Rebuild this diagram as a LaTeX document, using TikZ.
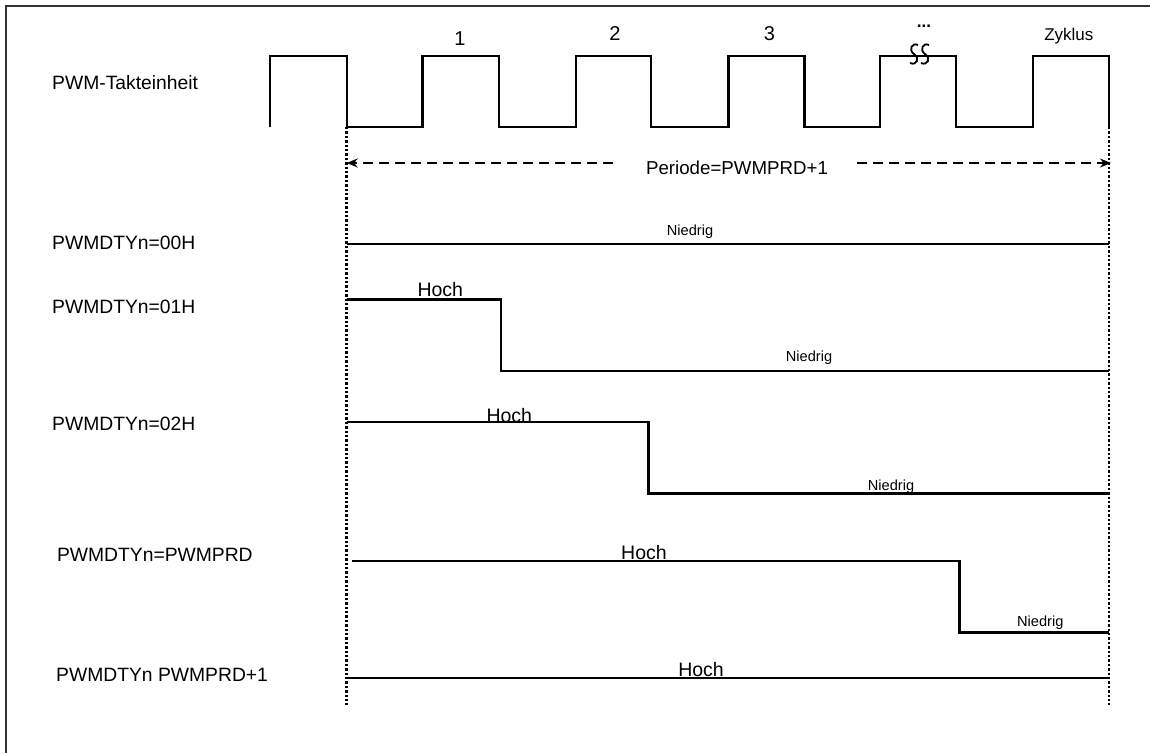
\documentclass[tikz,border=0pt]{standalone}
\usepackage{fontspec}
\setmainfont{Liberation Sans}
\usetikzlibrary{arrows.meta}
\begin{document}
\begin{tikzpicture}[x=1pt,y=-1pt,
  frame/.style={line width=2pt,draw=black!80},
  sig/.style={line width=2.4pt,line join=miter},
  vdot/.style={line width=2.6pt,dash pattern=on 2.4pt off 2pt},
  darrow/.style={line width=1.5pt,dash pattern=on 10pt off 6pt,-{Stealth[length=11pt,width=9pt]}},
  rowlab/.style={anchor=base west,inner sep=0pt,font=\fontsize{19.3}{23}\selectfont},
  hilab/.style={anchor=base,inner sep=0pt,font=\fontsize{19.5}{23}\selectfont},
  lolab/.style={anchor=base,inner sep=0pt,font=\fontsize{14.6}{17}\selectfont},
  numlab/.style={anchor=base,inner sep=0pt,font=\fontsize{20}{24}\selectfont}]
\useasboundingbox (0,0) rectangle (1150,753);
% frame (top and left edges)
\draw[frame] (5.5,753) -- (5.5,5.5) -- (1150,5.5);

% clock
\draw[sig] (270,127) -- (270,56) -- (346.7,56) -- (346.7,127) -- (422.3,127) -- (422.3,56)
  -- (498.7,56) -- (498.7,127) -- (575.7,127) -- (575.7,56) -- (651,56) -- (651,127)
  -- (728.3,127) -- (728.3,56) -- (804.3,56) -- (804.3,127) -- (880,127) -- (880,56)
  -- (956,56) -- (956,127) -- (1033,127) -- (1033,56) -- (1109,56) -- (1109,127);
% break symbol
\draw[line width=1.8pt] (918,45) .. controls (912,42) and (908,50) .. (914,54) .. controls (920,58) and (917,66) .. (910,63);
\draw[line width=1.8pt] (929,45) .. controls (923,42) and (919,50) .. (925,54) .. controls (931,58) and (928,66) .. (921,63);

\node[rowlab] (clk) at (52,89) {PWM-Takteinheit};
\node[numlab] (c1) at (460,45) {1};
\node[numlab] (c2) at (615,40.7) {2};
\node[numlab] (c3) at (769.5,40.7) {3};
\node[anchor=base,inner sep=0pt,font=\fontsize{17}{20}\selectfont\bfseries] (cd) at (924,27) {...};
\node[anchor=base,inner sep=0pt,font=\fontsize{17}{20}\selectfont] (cz) at (1068.8,40.7) {Zyklus};

% period boundaries
\coordinate (pa) at (346.7,127);
\coordinate (pab) at (346.7,705);
\coordinate (pb) at (1109,127);
\coordinate (pbb) at (1109,705);
\draw[vdot] (pa) -- (pab);
\draw[vdot] (pb) -- (pbb);

% period arrow
\node[anchor=base,inner sep=0pt,font=\fontsize{18.7}{22}\selectfont] (per) at (737,174) {Periode=PWMPRD+1};
\coordinate (al) at (346.7,163);
\coordinate (ar) at (1111,163);
\coordinate (alt) at (613,163);
\coordinate (art) at (857,163);
\draw[darrow] (alt) -- (al);
\draw[darrow] (art) -- (ar);

% rows
\node[rowlab] (r0) at (52,249.3) {PWMDTYn=00H};
\draw[sig] (346.7,244) -- (1109,244);
\node[lolab] (r0l) at (690,235.5) {Niedrig};

\node[rowlab] (r1) at (52,313.3) {PWMDTYn=01H};
\draw[sig] (346.7,299.3) -- (500.7,299.3) -- (500.7,370.7) -- (1109,370.7);
\node[hilab] (r1h) at (440.3,296.7) {Hoch};
\node[lolab] (r1l) at (809,361.5) {Niedrig};

\node[rowlab] (r2) at (52,430) {PWMDTYn=02H};
\draw[sig] (346.7,421.7) -- (648.4,421.7) -- (648.4,493.3) -- (1109,493.3);
\node[hilab] (r2h) at (509.3,422) {Hoch};
\node[lolab] (r2l) at (891,490.5) {Niedrig};

\node[rowlab] (r3) at (56.8,561.7) {PWMDTYn=PWMPRD};
\draw[sig] (352,561) -- (959.5,561) -- (959.5,632.3) -- (1109,632.3);
\node[hilab] (r3h) at (644,559) {Hoch};
\node[lolab] (r3l) at (1040.3,626) {Niedrig};

\node[rowlab] (r4) at (56,681.7) {PWMDTYn PWMPRD+1};
\draw[sig] (346.7,677.7) -- (1109,677.7);
\node[hilab] (r4h) at (701,676.5) {Hoch};
\end{tikzpicture}
\end{document}
